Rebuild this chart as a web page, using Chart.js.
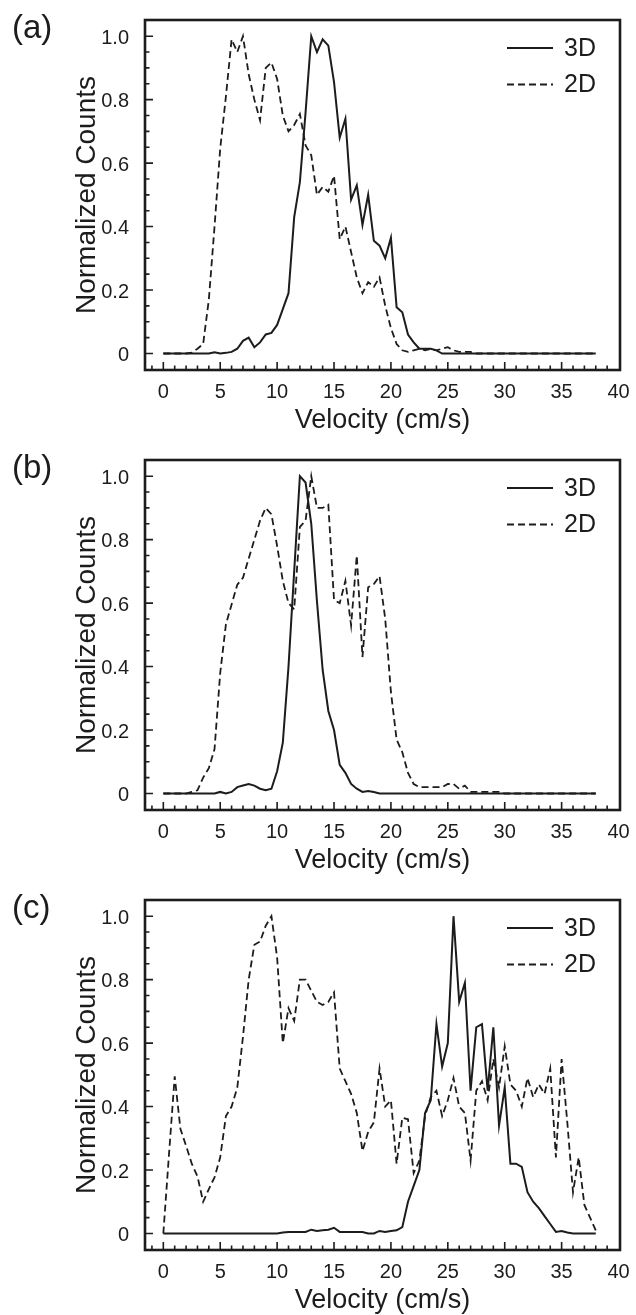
<!DOCTYPE html>
<html>
<head>
<meta charset="utf-8">
<title>Velocity distributions</title>
<script src="https://cdn.jsdelivr.net/npm/chart.js@4.4.1/dist/chart.umd.min.js"></script>
<style>
    html, body { margin: 0; padding: 0; background: #fff; overflow: hidden; }
    canvas { display: block; }
</style>
</head>
<body>
<canvas id="panelA" width="636" height="440"></canvas>
<canvas id="panelB" width="636" height="440"></canvas>
<canvas id="panelC" width="636" height="440"></canvas>
<script>
// velocity bins (cm/s)
const velocity = [
    0, 0.5, 1, 1.5, 2, 2.5, 3, 3.5, 4, 4.5,
    5, 5.5, 6, 6.5, 7, 7.5, 8, 8.5, 9, 9.5,
    10, 10.5, 11, 11.5, 12, 12.5, 13, 13.5, 14, 14.5,
    15, 15.5, 16, 16.5, 17, 17.5, 18, 18.5, 19, 19.5,
    20, 20.5, 21, 21.5, 22, 22.5, 23, 23.5, 24, 24.5,
    25, 25.5, 26, 26.5, 27, 27.5, 28, 28.5, 29, 29.5,
    30, 30.5, 31, 31.5, 32, 32.5, 33, 33.5, 34, 34.5,
    35, 35.5, 36, 36.5, 37, 37.5, 38
];

// (a)
const countsA3D = [
    0, 0, 0, 0, 0, 0, 0, 0, 0, 0.004,
    0, 0.002, 0.005, 0.015, 0.04, 0.05, 0.02, 0.035, 0.06, 0.065,
    0.09, 0.14, 0.19, 0.43, 0.54, 0.76, 1.0, 0.95, 0.99, 0.97,
    0.855, 0.68, 0.74, 0.485, 0.53, 0.405, 0.50, 0.355, 0.34, 0.30,
    0.365, 0.146, 0.13, 0.06, 0.035, 0.015, 0.015, 0.015, 0.01, 0,
    0, 0, 0, 0, 0, 0, 0, 0, 0, 0,
    0, 0, 0, 0, 0, 0, 0, 0, 0, 0,
    0, 0, 0, 0, 0, 0, 0
];
const countsA2D = [
    0, 0, 0, 0, 0, 0.003, 0.015, 0.03, 0.17, 0.40,
    0.646, 0.81, 0.99, 0.95, 1.0, 0.88, 0.80, 0.735, 0.90, 0.917,
    0.865, 0.75, 0.70, 0.72, 0.755, 0.656, 0.625, 0.50, 0.525, 0.51,
    0.56, 0.36, 0.40, 0.32, 0.24, 0.19, 0.225, 0.21, 0.24, 0.15,
    0.08, 0.03, 0.01, 0.005, 0.01, 0.015, 0.01, 0.015, 0.01, 0.015,
    0.02, 0.01, 0.005, 0.005, 0.005, 0, 0, 0, 0, 0,
    0, 0, 0, 0, 0, 0, 0, 0, 0, 0,
    0, 0, 0, 0, 0, 0, 0
];

// (b)
const countsB3D = [
    0, 0, 0, 0, 0, 0, 0, 0, 0, 0,
    0.005, 0, 0.005, 0.02, 0.025, 0.03, 0.025, 0.015, 0.01, 0.015,
    0.07, 0.16, 0.40, 0.70, 1.0, 0.98, 0.85, 0.606, 0.39, 0.26,
    0.20, 0.09, 0.065, 0.03, 0.015, 0.005, 0.008, 0.005, 0, 0,
    0, 0, 0, 0, 0, 0, 0, 0, 0, 0,
    0, 0, 0, 0, 0, 0, 0, 0, 0, 0,
    0, 0, 0, 0, 0, 0, 0, 0, 0, 0,
    0, 0, 0, 0, 0, 0, 0
];
const countsB2D = [
    0, 0, 0, 0, 0, 0.005, 0.01, 0.05, 0.08, 0.14,
    0.38, 0.533, 0.596, 0.658, 0.68, 0.74, 0.80, 0.86, 0.90, 0.88,
    0.78, 0.67, 0.60, 0.58, 0.84, 0.86, 1.0, 0.90, 0.90, 0.91,
    0.61, 0.60, 0.67, 0.53, 0.75, 0.43, 0.65, 0.66, 0.685, 0.55,
    0.32, 0.17, 0.13, 0.065, 0.03, 0.02, 0.02, 0.02, 0.02, 0.02,
    0.03, 0.03, 0.015, 0.025, 0.005, 0.005, 0.005, 0.005, 0.005, 0.005,
    0, 0, 0, 0, 0, 0, 0, 0, 0, 0,
    0, 0, 0, 0, 0, 0, 0
];

// (c)
const countsC3D = [
    0, 0, 0, 0, 0, 0, 0, 0, 0, 0,
    0, 0, 0, 0, 0, 0, 0, 0, 0, 0,
    0, 0.003, 0.005, 0.005, 0.005, 0.005, 0.012, 0.008, 0.01, 0.012,
    0.018, 0.005, 0.005, 0.005, 0.005, 0.005, 0, 0, 0.008, 0.005,
    0.008, 0.01, 0.02, 0.10, 0.15, 0.20, 0.38, 0.42, 0.66, 0.526,
    0.60, 1.0, 0.73, 0.79, 0.45, 0.65, 0.66, 0.45, 0.65, 0.34,
    0.46, 0.22, 0.22, 0.21, 0.13, 0.10, 0.08, 0.055, 0.03, 0.005,
    0.008, 0.003, 0, 0, 0, 0, 0
];
const countsC2D = [
    0, 0.25, 0.495, 0.33, 0.276, 0.22, 0.18, 0.10, 0.14, 0.177,
    0.24, 0.37, 0.40, 0.46, 0.62, 0.80, 0.91, 0.92, 0.97, 1.0,
    0.87, 0.60, 0.71, 0.67, 0.80, 0.80, 0.765, 0.73, 0.72, 0.73,
    0.76, 0.52, 0.48, 0.44, 0.38, 0.26, 0.32, 0.35, 0.52, 0.40,
    0.42, 0.22, 0.365, 0.36, 0.19, 0.23, 0.37, 0.43, 0.45, 0.37,
    0.42, 0.49, 0.40, 0.38, 0.23, 0.45, 0.48, 0.42, 0.55, 0.46,
    0.59, 0.47, 0.45, 0.40, 0.49, 0.43, 0.47, 0.44, 0.52, 0.24,
    0.55, 0.35, 0.13, 0.24, 0.09, 0.05, 0.01
];

const xTickValues = [0, 5, 10, 15, 20, 25, 30, 35, 40];
const yTickValues = [0, 0.2, 0.4, 0.6, 0.8, 1.0];
const yTickLabels = ['0', '0.2', '0.4', '0.6', '0.8', '1.0'];
const seriesNames = ['3D', '2D'];

const FONT = "'Liberation Sans', Arial, Helvetica, sans-serif";
const INK = '#1c1c1c';

// frame, inward ticks, legend and panel letter
const decorPlugin = {
    id: 'decor',
    afterDraw(chart, args, opts) {
        const ctx = chart.ctx;
        const area = chart.chartArea;
        const xs = chart.scales.x;
        const ys = chart.scales.y;
        ctx.save();
        ctx.strokeStyle = INK;

        // minor / major ticks pointing into the plot
        ctx.lineWidth = 1.6;
        ctx.beginPath();
        for (let v = Math.ceil(xs.min); v < xs.max - 0.3; v++) {
            const px = xs.getPixelForValue(v);
            const len = v % 5 === 0 ? 8 : 4.5;
            ctx.moveTo(px, area.bottom);
            ctx.lineTo(px, area.bottom - len);
        }
        for (let k = 0; k <= 20; k++) {
            const v = k * 0.05;
            if (v <= ys.min || v >= ys.max) continue;
            const py = ys.getPixelForValue(v);
            const len = k % 4 === 0 ? 8 : 4.5;
            ctx.moveTo(area.left, py);
            ctx.lineTo(area.left + len, py);
        }
        ctx.stroke();

        // plot frame
        ctx.lineWidth = 2.6;
        ctx.strokeRect(area.left, area.top, area.right - area.left, area.bottom - area.top);

        // legend in the upper right corner
        ctx.fillStyle = INK;
        ctx.font = '25px ' + FONT;
        ctx.textBaseline = 'middle';
        ctx.textAlign = 'left';
        chart.data.datasets.forEach((ds, i) => {
            const ly = area.top + 28 + i * 36.5;
            ctx.lineWidth = ds.borderWidth;
            ctx.setLineDash(ds.borderDash || []);
            ctx.beginPath();
            ctx.moveTo(507, ly);
            ctx.lineTo(553, ly);
            ctx.stroke();
            ctx.setLineDash([]);
            ctx.fillText(ds.label, 564, ly + 1);
        });

        // panel letter
        ctx.font = '33px ' + FONT;
        ctx.fillText(opts.letter, 12, 29);
        ctx.restore();
    }
};

function makePanel(canvasId, letter, solid, dashed) {
    const ctx = document.getElementById(canvasId).getContext('2d');
    return new Chart(ctx, {
        type: 'line',
        data: {
            datasets: [
                {
                    label: seriesNames[0],
                    data: velocity.map((v, i) => ({ x: v, y: solid[i] })),
                    borderColor: INK,
                    borderWidth: 2,
                    pointRadius: 0,
                    tension: 0,
                    fill: false
                },
                {
                    label: seriesNames[1],
                    data: velocity.map((v, i) => ({ x: v, y: dashed[i] })),
                    borderColor: INK,
                    borderWidth: 1.8,
                    borderDash: [7, 4],
                    pointRadius: 0,
                    tension: 0,
                    fill: false
                }
            ]
        },
        options: {
            responsive: false,
            animation: false,
            events: [],
            layout: { padding: { top: 17, right: 16, left: 0, bottom: 0 } },
            plugins: {
                legend: { display: false },
                tooltip: { enabled: false },
                decor: { letter: letter }
            },
            scales: {
                x: {
                    type: 'linear',
                    min: -1.61,
                    max: 40.13,
                    afterBuildTicks: scale => {
                        scale.ticks = xTickValues.map(v => ({ value: v }));
                    },
                    afterFit: scale => { scale.height = 70; },
                    grid: { display: false },
                    border: { display: false },
                    ticks: {
                        autoSkip: false,
                        maxRotation: 0,
                        padding: 2,
                        color: INK,
                        font: { family: FONT, size: 20 }
                    },
                    title: {
                        display: true,
                        text: 'Velocity (cm/s)',
                        color: INK,
                        font: { family: FONT, size: 27 },
                        padding: { top: 0, bottom: 3 }
                    }
                },
                y: {
                    type: 'linear',
                    min: -0.052,
                    max: 1.051,
                    afterBuildTicks: scale => {
                        scale.ticks = yTickValues.map(v => ({ value: v }));
                    },
                    afterFit: scale => { scale.width = 145; },
                    grid: { display: false },
                    border: { display: false },
                    ticks: {
                        padding: 8,
                        labelOffset: 2,
                        color: INK,
                        font: { family: FONT, size: 20 },
                        callback: (value, index) => yTickLabels[index]
                    },
                    title: {
                        display: true,
                        text: 'Normalized Counts',
                        color: INK,
                        font: { family: FONT, size: 28 },
                        padding: { top: 70, bottom: 0 }
                    }
                }
            }
        },
        plugins: [decorPlugin]
    });
}

makePanel('panelA', '(a)', countsA3D, countsA2D);
makePanel('panelB', '(b)', countsB3D, countsB2D);
makePanel('panelC', '(c)', countsC3D, countsC2D);
</script>
</body>
</html>
